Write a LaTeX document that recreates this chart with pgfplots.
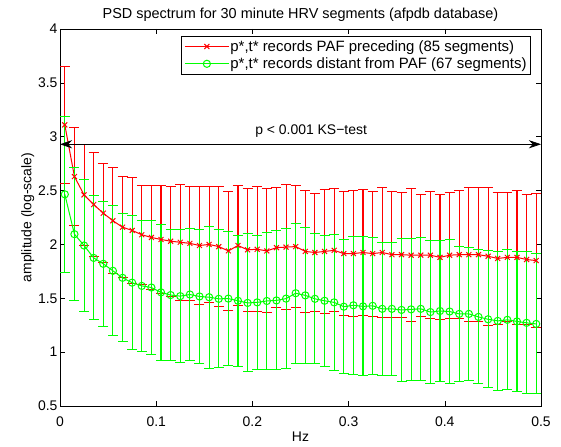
\documentclass[border=0pt]{standalone}
\usepackage{fontspec}
\setmainfont{Liberation Sans}
\usepackage{pgfplots}
\pgfplotsset{compat=1.18}
\usepackage{pgfplotstable}
\usetikzlibrary{arrows.meta}

% columns: frequency, mean amplitude, half error bar
\pgfplotstableread{
x y e
0.005 3.110 0.540
0.015 2.630 0.457
0.025 2.460 0.470
0.035 2.370 0.485
0.045 2.290 0.460
0.055 2.220 0.490
0.065 2.160 0.470
0.075 2.130 0.495
0.085 2.090 0.460
0.095 2.065 0.485
0.105 2.046 0.504
0.115 2.030 0.510
0.125 2.020 0.540
0.135 2.010 0.530
0.145 1.990 0.545
0.155 2.000 0.540
0.165 1.980 0.555
0.175 1.940 0.550
0.185 1.990 0.555
0.195 1.950 0.570
0.205 1.955 0.580
0.215 1.940 0.575
0.225 1.970 0.560
0.235 1.975 0.580
0.245 1.980 0.565
0.255 1.935 0.570
0.265 1.925 0.545
0.275 1.935 0.575
0.285 1.945 0.570
0.295 1.915 0.575
0.305 1.915 0.585
0.315 1.925 0.585
0.325 1.915 0.580
0.335 1.925 0.605
0.345 1.905 0.585
0.355 1.905 0.580
0.365 1.900 0.615
0.375 1.900 0.565
0.385 1.900 0.590
0.395 1.880 0.580
0.405 1.900 0.585
0.415 1.905 0.595
0.425 1.905 0.625
0.435 1.905 0.620
0.445 1.890 0.640
0.455 1.870 0.615
0.465 1.880 0.600
0.475 1.880 0.620
0.485 1.860 0.605
0.495 1.850 0.620
}\preceding

\pgfplotstableread{
x y e
0.005 2.465 0.725
0.015 2.095 0.620
0.025 1.990 0.615
0.035 1.875 0.575
0.045 1.820 0.580
0.055 1.755 0.605
0.065 1.690 0.593
0.075 1.645 0.622
0.085 1.615 0.605
0.095 1.600 0.620
0.105 1.555 0.632
0.115 1.530 0.610
0.125 1.520 0.620
0.135 1.535 0.610
0.145 1.517 0.620
0.155 1.510 0.660
0.165 1.495 0.640
0.175 1.497 0.620
0.185 1.477 0.610
0.195 1.457 0.640
0.205 1.462 0.620
0.215 1.475 0.635
0.225 1.480 0.645
0.235 1.497 0.650
0.245 1.547 0.650
0.255 1.527 0.630
0.265 1.495 0.605
0.275 1.477 0.610
0.285 1.462 0.630
0.295 1.422 0.620
0.305 1.435 0.640
0.315 1.425 0.645
0.325 1.430 0.635
0.335 1.402 0.617
0.345 1.402 0.617
0.355 1.392 0.667
0.365 1.397 0.657
0.375 1.402 0.662
0.385 1.372 0.662
0.395 1.382 0.657
0.405 1.377 0.672
0.415 1.355 0.630
0.425 1.355 0.620
0.435 1.327 0.622
0.445 1.305 0.635
0.455 1.290 0.645
0.465 1.300 0.650
0.475 1.285 0.652
0.485 1.272 0.660
0.495 1.262 0.650
}\distant

\begin{document}
\begin{tikzpicture}
\useasboundingbox (-60bp,-41bp) rectangle (501bp,406bp);
\begin{axis}[
  scale only axis,
  width=481bp, height=377bp,
  xmin=0, xmax=0.5, ymin=0.5, ymax=4,
  xtick={0,0.1,...,0.5},
  ytick={0.5,1,...,4},
  tick align=inside,
  major tick length=5bp,
  axis line style={line width=0.8bp},
  tick style={line width=0.6bp, black},
  font=\fontsize{14}{16}\selectfont,
  tick label style={font=\fontsize{14}{16}\selectfont},
  /pgf/number format/assume math mode=true,
  yticklabel style={/pgf/number format/fixed, /pgf/number format/precision=1, xshift=1bp},
  xticklabel style={/pgf/number format/fixed, /pgf/number format/precision=1, yshift=-7bp},
  title={PSD spectrum for 30 minute HRV segments (afpdb database)},
  title style={font=\fontsize{14.5}{16}\selectfont, yshift=-2bp},
  xlabel={Hz},
  ylabel={amplitude (log-scale)},
  xlabel style={yshift=1bp},
  ylabel style={yshift=-3bp},
  legend cell align=left,
  legend style={at={(0.979,0.9827)}, anchor=north east, draw=black,
    line width=0.6bp, fill=white, font=\fontsize{15}{17}\selectfont,
    inner xsep=3bp, inner ysep=3bp, row sep=2bp,
    nodes={inner xsep=1bp, inner ysep=1.5bp}},
  legend image code/.code={
    \draw[mark repeat=2, mark phase=2, #1] plot coordinates {(0bp,0bp) (22bp,0bp) (44bp,0bp)};
  },
]
\addplot[red, line width=1bp, mark=x, mark size=3.5bp,
  error bars/.cd, y dir=both, y explicit,
  error bar style={red, line width=1.1bp},
  error mark options={red, mark size=5bp, rotate=90, line width=1bp}]
  table[x=x, y=y, y error=e] {\preceding};
\addlegendentry{p*,t* records PAF preceding (85 segments)}
\addplot[green, line width=1bp, mark=o, mark size=3.6bp,
  error bars/.cd, y dir=both, y explicit,
  error bar style={green, line width=1.1bp},
  error mark options={green, mark size=5bp, rotate=90, line width=1bp}]
  table[x=x, y=y, y error=e] {\distant};
\addlegendentry{p*,t* records distant from PAF (67 segments)}
\draw[{Stealth[length=12bp,width=8bp]}-{Stealth[length=12bp,width=8bp]}, line width=0.7bp]
  (axis cs:0,2.93) -- (axis cs:0.5,2.93);
\node[font=\fontsize{14}{16}\selectfont] at (axis cs:0.261,3.05) {p < 0.001 KS−test};
\end{axis}
\end{tikzpicture}
\end{document}
